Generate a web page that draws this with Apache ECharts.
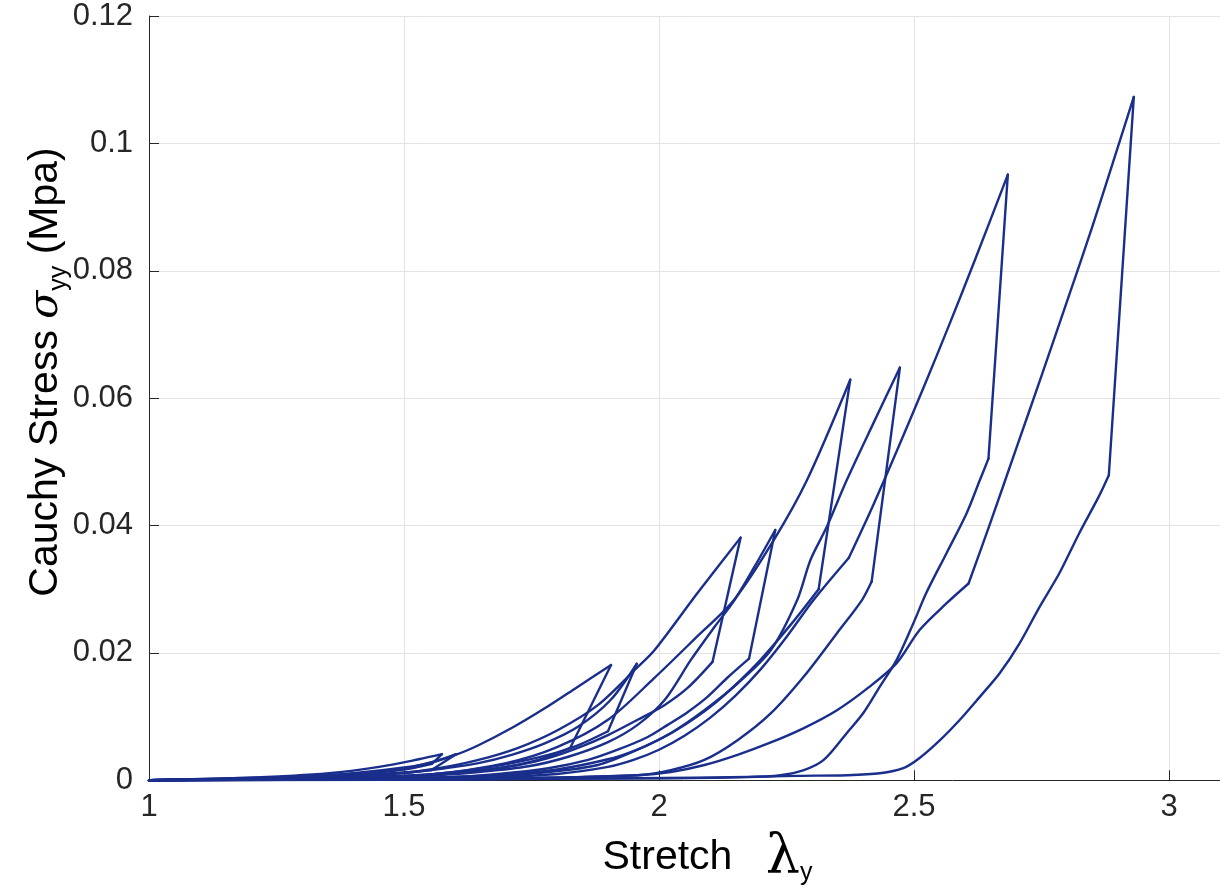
<!DOCTYPE html>
<html>
<head>
<meta charset="utf-8">
<script src="https://cdn.jsdelivr.net/npm/echarts@6/dist/echarts.min.js"></script>
<style>html,body{margin:0;padding:0;background:#fff}#c{width:1220px;height:894px}</style>
</head>
<body>
<div id="c"></div>
<script>
// ---- data: stretch λy vs Cauchy stress σyy (MPa) ----
// level 1
const load1a   = [[1,0],[1.197,0.0004],[1.353,0.0011],[1.451,0.0021],[1.529,0.0033],[1.5745,0.0041]];
const drop1a   = [[1.5745,0.0041],[1.555,0.0026]];
const unload1a = [[1.555,0.0026],[1.50,0.0017],[1.40,0.0009],[1.30,0.0004],[1.15,0.0001],[1,0]];
const load1b   = [[1,0],[1.25,0.0003],[1.40,0.0011],[1.50,0.0020],[1.56,0.0029],[1.602,0.0041]];
const drop1b   = [[1.602,0.0041],[1.554,0.0016]];
const unload1b = [[1.554,0.0016],[1.48,0.0010],[1.40,0.0006],[1.30,0.0003],[1,0]];
// level 2
const load2a   = [[1,0],[1.256,0.0005],[1.353,0.0008],[1.451,0.0013],[1.516,0.0021],[1.601,0.0040],[1.646,0.0055],[1.711,0.0082],[1.776,0.0113],[1.841,0.0147],[1.906,0.0181]];
const drop2a   = [[1.906,0.0181],[1.826,0.0051]];
const unload2a = [[1.826,0.0051],[1.763,0.0032],[1.685,0.0019],[1.588,0.0011],[1.49,0.0007],[1.295,0.0003],[1,0]];
const load2b   = [[1,0],[1.295,0.0004],[1.516,0.0013],[1.581,0.0019],[1.646,0.0027],[1.711,0.0040],[1.776,0.0058],[1.841,0.0084],[1.905,0.0126],[1.9565,0.0183]];
const drop2b   = [[1.9565,0.0183],[1.900,0.0077]];
const unload2b = [[1.900,0.0077],[1.841,0.0055],[1.783,0.0040],[1.705,0.0026],[1.627,0.0016],[1.529,0.0008],[1.431,0.0005],[1.295,0.0002],[1,0]];
// level 3
const load3a   = [[1,0],[1.197,0.0003],[1.392,0.0007],[1.49,0.0011],[1.568,0.0019],[1.646,0.0032],[1.724,0.0051],[1.802,0.0079],[1.880,0.0118],[1.956,0.0176],[1.991,0.0204],[2.0755,0.0294],[2.160,0.0381]];
const drop3a   = [[2.160,0.0381],[2.105,0.0186]];
const unload3a = [[2.105,0.0186],[2.056,0.0145],[2.0105,0.0118],[1.958,0.0095],[1.900,0.0071],[1.841,0.0051],[1.783,0.0035],[1.724,0.0024],[1.646,0.0015],[1.548,0.0008],[1.451,0.0005],[1,0]];
const load3b   = [[1,0],[1.451,0.0003],[1.548,0.0007],[1.646,0.0013],[1.744,0.0022],[1.822,0.0037],[1.900,0.0060],[1.958,0.0087],[2.011,0.0126],[2.0625,0.0189],[2.109,0.0241],[2.148,0.0283],[2.187,0.0335],[2.228,0.0393]];
const drop3b   = [[2.228,0.0393],[2.1765,0.0191]];
const unload3b = [[2.1765,0.0191],[2.134,0.0161],[2.095,0.0131],[2.056,0.0107],[2.017,0.0087],[1.978,0.0068],[1.919,0.0048],[1.861,0.0032],[1.783,0.0019],[1.685,0.0010],[1.588,0.0005],[1,0]];
// level 4
const load4a   = [[1,0],[1.39,0.0003],[1.55,0.0009],[1.70,0.0027],[1.80,0.0052],[1.90,0.0095],[1.99,0.0160],[2.07,0.0222],[2.147,0.0283],[2.225,0.0377],[2.290,0.0471],[2.375,0.0629]];
const drop4a   = [[2.375,0.0629],[2.313,0.0300]];
const unload4a = [[2.313,0.0300],[2.26,0.0246],[2.20,0.0190],[2.15,0.0150],[2.10,0.0115],[2.05,0.0087],[2.00,0.0064],[1.95,0.0046],[1.90,0.0033],[1.80,0.0017],[1.70,0.0009],[1.55,0.0004],[1,0]];
const load4b   = [[1,0],[1.49,0.0002],[1.685,0.0007],[1.783,0.0013],[1.880,0.0024],[1.958,0.0048],[2.023,0.0074],[2.089,0.0110],[2.154,0.0152],[2.219,0.0204],[2.271,0.0283],[2.297,0.0346],[2.329,0.0398],[2.368,0.0471],[2.420,0.0560],[2.4724,0.0648]];
const drop4b   = [[2.4724,0.0648],[2.417,0.0312]];
const unload4b = [[2.417,0.0312],[2.398,0.0283],[2.349,0.0231],[2.284,0.0163],[2.219,0.0105],[2.154,0.0063],[2.089,0.0032],[2.023,0.0016],[1.958,0.0008],[1.685,0.0003],[1,0]];
// level 5
const load5aLow  = [[1,0],[1.65,0.0004],[1.80,0.0010],[1.90,0.0021],[1.95,0.0032],[2.00,0.0048],[2.05,0.0070],[2.10,0.0098],[2.15,0.0133],[2.20,0.0175],[2.25,0.0225],[2.303,0.0283],[2.372,0.0349]];
const load5aHigh = [[2.372,0.0349],[2.42,0.0432],[2.47,0.0524],[2.52,0.0619],[2.57,0.0717],[2.62,0.0818],[2.684,0.0951]];
const drop5a   = [[2.684,0.0951],[2.646,0.0505]];
const unload5a = [[2.646,0.0505],[2.629,0.0471],[2.603,0.0419],[2.564,0.0357],[2.524,0.0294],[2.499,0.0247],[2.466,0.0189],[2.433,0.0147],[2.401,0.0106],[2.368,0.0074],[2.323,0.0032],[2.284,0.0016],[2.238,0.0008],[2.173,0.0005],[1.978,0.0003],[1,0]];
const load5bLow  = [[1,0],[1.588,0.0001],[1.783,0.0004],[1.958,0.0008],[2.023,0.0013],[2.089,0.0024],[2.154,0.0040],[2.218,0.0059],[2.284,0.0082],[2.349,0.0110],[2.413,0.0147],[2.466,0.0184],[2.511,0.0236],[2.564,0.0278],[2.607,0.0309]];
const load5bHigh = [[2.607,0.0309],[2.65,0.0405],[2.70,0.0520],[2.75,0.0635],[2.80,0.0752],[2.85,0.0870],[2.90,0.0995],[2.931,0.1073]];
const drop5b   = [[2.931,0.1073],[2.882,0.0479]];
const unload5b = [[2.882,0.0479],[2.862,0.0445],[2.824,0.0388],[2.785,0.0325],[2.746,0.0272],[2.707,0.0215],[2.668,0.0168],[2.629,0.0131],[2.590,0.0095],[2.551,0.0063],[2.511,0.0035],[2.479,0.0019],[2.433,0.0011],[2.368,0.0008],[2.271,0.0007],[2.076,0.0004],[1.685,0.0002],[1,0]];

const xTickLabels = ['1','1.5','2','2.5','3'];
const yTickLabels = ['0','0.02','0.04','0.06','0.08','0.1','0.12'];

const curves = [load1a,unload1a,load1b,unload1b,load2a,unload2a,load2b,unload2b,
                load3a,unload3a,load3b,unload3b,load4a,unload4a,load4b,unload4b,
                load5aLow,load5aHigh,unload5a,load5bLow,load5bHigh,unload5b];
const drops  = [drop1a,drop1b,drop2a,drop2b,drop3a,drop3b,drop4a,drop4b,drop5a,drop5b];

const LINE = '#1a2e8c';
const INK = '#262626';
const FONT = 'Liberation Sans, Arial, Helvetica, sans-serif';

const mk = (p, sm) => ({
  type:'line', data:p, showSymbol:false, symbol:'none', smooth:sm, clip:true,
  lineStyle:{color:LINE, width:2.4, join:'round', cap:'round'}, z:3
});

const chart = echarts.init(document.getElementById('c'), null, {renderer:'canvas'});
chart.setOption({
  animation:false,
  backgroundColor:'#fff',
  grid:{left:149, top:16, width:1075.8, height:764.3, containLabel:false},
  xAxis:{
    type:'value', min:1, max:3.1, interval:0.5,
    axisLine:{show:true, lineStyle:{color:INK, width:1}},
    axisTick:{show:true, inside:true, length:10, lineStyle:{color:INK, width:1}},
    axisLabel:{color:INK, fontSize:31, fontFamily:FONT, margin:12, showMaxLabel:false,
      formatter:v=>{const i=Math.round((v-1)/0.5);return (Math.abs(v-1-i*0.5)<1e-9 && xTickLabels[i])?xTickLabels[i]:'';}},
    splitLine:{show:true, lineStyle:{color:'#e3e3e3', width:1}}
  },
  yAxis:{
    type:'value', min:0, max:0.12, interval:0.02,
    axisLine:{show:true, lineStyle:{color:INK, width:1}},
    axisTick:{show:true, inside:true, length:10, lineStyle:{color:INK, width:1}},
    axisLabel:{color:INK, fontSize:31, fontFamily:FONT, margin:16,
      formatter:v=>{const i=Math.round(v/0.02);return yTickLabels[i]!==undefined?yTickLabels[i]:'';}},
    splitLine:{show:true, lineStyle:{color:'#e3e3e3', width:1}}
  },
  graphic:[
    {type:'text', x:707.5, y:858, style:{
      text:'{a|Stretch }{l|λ}{s|y}', align:'center', verticalAlign:'middle',
      rich:{
        a:{fontSize:41, fontFamily:FONT, fill:'#000', lineHeight:56, verticalAlign:'middle'},
        l:{fontSize:54, fontFamily:'DejaVu Serif, serif', fill:'#000', lineHeight:56, verticalAlign:'middle', padding:[0,0,0,22]},
        s:{fontSize:25, fontFamily:FONT, fill:'#000', lineHeight:25, verticalAlign:'bottom'}
      }}},
    {type:'text', x:46, y:372, rotation:Math.PI/2, style:{
      text:'{a|Cauchy Stress }{g|σ}{s|yy}{a| (Mpa)}', align:'center', verticalAlign:'middle',
      rich:{
        a:{fontSize:41, fontFamily:FONT, fill:'#000', lineHeight:52, verticalAlign:'middle'},
        g:{fontSize:41, fontFamily:'DejaVu Serif, serif', fontStyle:'italic', fill:'#000', lineHeight:52, verticalAlign:'middle'},
        s:{fontSize:25, fontFamily:FONT, fill:'#000', lineHeight:25, verticalAlign:'bottom'}
      }}}
  ],
  series: curves.map(p=>mk(p,0.3)).concat(drops.map(p=>mk(p,false)))
});
</script>
</body>
</html>
